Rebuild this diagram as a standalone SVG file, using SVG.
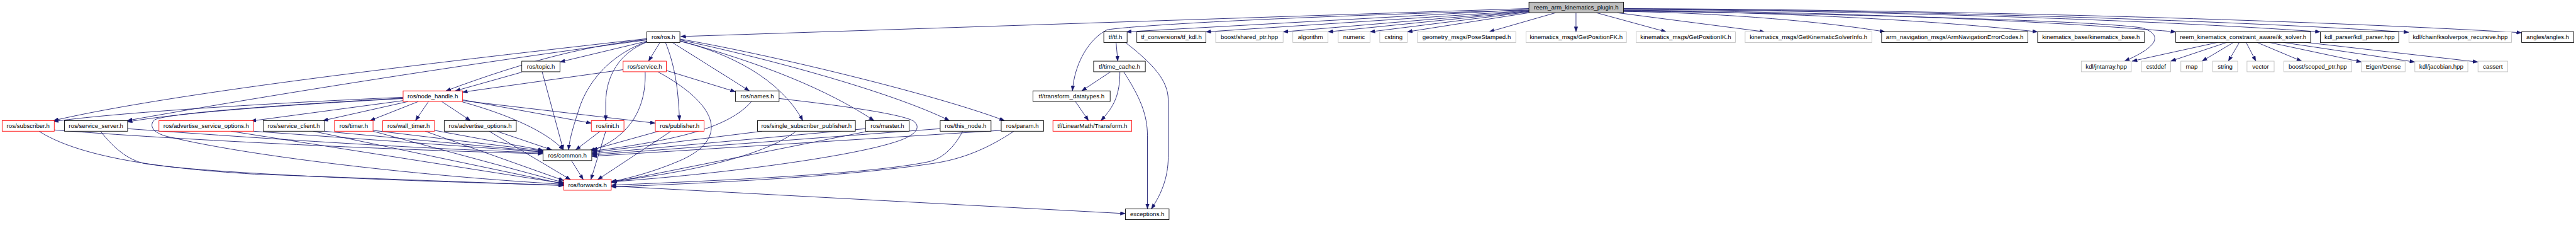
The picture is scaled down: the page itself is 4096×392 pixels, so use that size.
<svg xmlns="http://www.w3.org/2000/svg" width="4096" height="392" viewBox="0 0 4096 392">
<style>
.n rect{fill:#fff;stroke-width:1.3}
.r rect{stroke:#ff0000}
.b rect{stroke:#000}
.g rect{stroke:#bfbfbf}
.root rect{fill:#bfbfbf;stroke:#000}
.n text{font-family:"Liberation Sans",Arial,Helvetica,sans-serif;font-size:14.4px;text-anchor:middle;fill:#000}
#edges path{fill:none;stroke:#191970;stroke-width:1.3;marker-end:url(#ah)}
</style>
<defs>
<marker id="ah" viewBox="0 0 12 9" refX="12" refY="4.5" markerWidth="12" markerHeight="9" orient="auto" markerUnits="userSpaceOnUse">
<path d="M0,0 L12,4.5 L0,9 z" fill="#191970" stroke="#191970" stroke-width="0.5"/>
</marker>
</defs>
<rect width="4096" height="392" fill="#fff"/>
<g transform="scale(0.674)">
<g id="edges">
<path d="M3607,20 L1606,86"/>
<path d="M3607,22 L2657,75"/>
<path d="M3607,24 C3000,40 2680,60 2612,70 C2568,92 2535,150 2530,214"/>
<path d="M3607,25 L2845,75"/>
<path d="M3607,26 L3027,75"/>
<path d="M3607,27 L3133,75"/>
<path d="M3607,28 L3232,75"/>
<path d="M3607,30 L3320,75"/>
<path d="M3670,30 L3513,75"/>
<path d="M3718,30 L3718,75"/>
<path d="M3766,30 L3931,75"/>
<path d="M3815,30 L4163,75"/>
<path d="M3830,27 C4046,30 4293,49 4447,75"/>
<path d="M3830,25 C4172,28 4563,47 4807,75"/>
<path d="M3830,24 C4286,27 4807,47 5133,75"/>
<path d="M3830,22 C4405,25 5063,46 5474,75"/>
<path d="M3830,21 C4479,24 5220,46 5683,76"/>
<path d="M3830,20 C4572,23 5419,46 5949,77"/>
<path d="M3830,26 C4300,32 4950,48 5055,66 C5110,85 5080,115 5012,144"/>
<path d="M5231,100 L5030,144"/>
<path d="M5253,100 L5121,144"/>
<path d="M5269,100 L5195,144"/>
<path d="M5283,100 L5257,144"/>
<path d="M5299,100 L5322,144"/>
<path d="M5325,100 L5430,144"/>
<path d="M5354,100 L5571,146"/>
<path d="M5387,100 L5697,146"/>
<path d="M5441,100 L5846,146"/>
<path d="M2633,100 L2637,144"/>
<path d="M2655,100 C2720,150 2756,190 2756,235 L2756,370 C2756,420 2738,460 2716,492"/>
<path d="M2651,169 C2690,230 2707,270 2707,320 L2707,492"/>
<path d="M2620,169 L2552,214"/>
<path d="M2642,169 C2642,220 2630,250 2597,284"/>
<path d="M2537,239 L2568,284"/>
<path d="M1442,438 L2655,503"/>
<path d="M1526,97 L1321,146"/>
<path d="M1557,100 L1530,144"/>
<path d="M1570,100 C1590,150 1600,200 1603,284"/>
<path d="M1586,100 L1768,214"/>
<path d="M1526,99 C1460,125 1430,180 1429,240 L1429,284"/>
<path d="M1526,98 C1450,125 1395,180 1370,245 C1355,290 1345,320 1341,353"/>
<path d="M1604,97 C1720,125 1840,185 1894,284"/>
<path d="M1604,96 C1800,150 1950,210 2062,284"/>
<path d="M1604,94 C1800,135 2100,215 2240,284"/>
<path d="M1604,92 C1800,125 2200,220 2370,284"/>
<path d="M1526,93 C1400,105 1250,140 1052,214"/>
<path d="M1526,91 C1000,150 400,220 126,284"/>
<path d="M1526,94 C1100,150 600,230 300,284"/>
<path d="M951,229 C700,240 300,262 126,286"/>
<path d="M951,232 C700,246 450,262 300,287"/>
<path d="M951,237 L592,285"/>
<path d="M963,239 L762,284"/>
<path d="M987,239 L873,284"/>
<path d="M1011,239 L980,284"/>
<path d="M1042,239 L1110,284"/>
<path d="M1091,235 L1395,290"/>
<path d="M1091,237 L1546,290"/>
<path d="M1091,240 C1200,270 1290,310 1329,353"/>
<path d="M951,231 C700,245 400,265 365,282 C350,295 360,315 402,323 C600,370 1000,415 1330,434"/>
<path d="M128,306 C500,335 1000,355 1281,362"/>
<path d="M92,309 C180,365 350,395 600,410 L1330,437"/>
<path d="M301,303 C700,332 1000,350 1281,360"/>
<path d="M237,309 C270,350 300,375 340,385 C500,410 1000,428 1330,436"/>
<path d="M598,309 L1281,358"/>
<path d="M545,309 L1330,432"/>
<path d="M765,309 L1281,357"/>
<path d="M739,309 L1330,433"/>
<path d="M880,307 L1281,355"/>
<path d="M880,309 L1330,430"/>
<path d="M1025,307 L1282,354"/>
<path d="M1003,309 L1330,425"/>
<path d="M1172,309 L1302,353"/>
<path d="M1154,309 L1346,423"/>
<path d="M1416,309 L1358,353"/>
<path d="M1429,309 L1394,423"/>
<path d="M1554,309 L1392,354"/>
<path d="M1583,309 L1410,423"/>
<path d="M1798,309 L1396,359"/>
<path d="M1878,309 C1800,370 1600,410 1442,427"/>
<path d="M2042,303 L1396,362"/>
<path d="M2048,309 L1442,430"/>
<path d="M2218,303 L1396,365"/>
<path d="M2271,309 C2250,350 2220,375 2190,381 C2050,410 1700,425 1442,436"/>
<path d="M2362,307 L1396,368"/>
<path d="M2392,309 C2330,350 2270,375 2200,385 C2000,415 1700,430 1442,440"/>
<path d="M1773,239 C1720,300 1600,330 1396,356"/>
<path d="M1838,232 C2000,250 2130,270 2155,285 C2175,300 2160,320 2110,335 C2000,370 1700,410 1443,428"/>
<path d="M1522,169 C1525,250 1490,320 1398,354"/>
<path d="M1552,169 C1700,250 1720,330 1600,380 C1540,405 1490,418 1443,428"/>
<path d="M1572,166 L1735,216"/>
<path d="M1470,164 L1091,217"/>
<path d="M1231,170 L1074,214"/>
<path d="M1279,169 L1329,353"/>
<path d="M1348,378 L1376,423"/>
</g>
<g id="reem_arm_kinematics_plugin" class="n root"><rect x="3607" y="5" width="223" height="25"/><text x="3718.5" y="22.5">reem_arm_kinematics_plugin.h</text></g>
<g id="ros_ros" class="n b"><rect x="1526" y="75" width="78" height="25"/><text x="1565" y="92.5">ros/ros.h</text></g>
<g id="tf_tf" class="n b"><rect x="2604" y="75" width="55" height="25"/><text x="2631.5" y="92.5">tf/tf.h</text></g>
<g id="tf_kdl" class="n b"><rect x="2682" y="75" width="163" height="25"/><text x="2763.5" y="92.5">tf_conversions/tf_kdl.h</text></g>
<g id="shared_ptr" class="n g"><rect x="2868" y="75" width="159" height="25"/><text x="2947.5" y="92.5">boost/shared_ptr.hpp</text></g>
<g id="algorithm" class="n g"><rect x="3050" y="75" width="83" height="25"/><text x="3091.5" y="92.5">algorithm</text></g>
<g id="numeric" class="n g"><rect x="3157" y="75" width="75" height="25"/><text x="3194.5" y="92.5">numeric</text></g>
<g id="cstring" class="n g"><rect x="3255" y="75" width="65" height="25"/><text x="3287.5" y="92.5">cstring</text></g>
<g id="pose_stamped" class="n g"><rect x="3344" y="75" width="232" height="25"/><text x="3460" y="92.5">geometry_msgs/PoseStamped.h</text></g>
<g id="get_fk" class="n g"><rect x="3600" y="75" width="237" height="25"/><text x="3718.5" y="92.5">kinematics_msgs/GetPositionFK.h</text></g>
<g id="get_ik" class="n g"><rect x="3860" y="75" width="234" height="25"/><text x="3977" y="92.5">kinematics_msgs/GetPositionIK.h</text></g>
<g id="get_solver_info" class="n g"><rect x="4117" y="75" width="299" height="25"/><text x="4266.5" y="92.5">kinematics_msgs/GetKinematicSolverInfo.h</text></g>
<g id="arm_nav_err" class="n b"><rect x="4439" y="75" width="345" height="25"/><text x="4611.5" y="92.5">arm_navigation_msgs/ArmNavigationErrorCodes.h</text></g>
<g id="kinematics_base" class="n b"><rect x="4807" y="75" width="252" height="25"/><text x="4933" y="92.5">kinematics_base/kinematics_base.h</text></g>
<g id="ik_solver" class="n b"><rect x="5133" y="75" width="318" height="25"/><text x="5292" y="92.5">reem_kinematics_constraint_aware/ik_solver.h</text></g>
<g id="kdl_parser" class="n b"><rect x="5474" y="75" width="185" height="25"/><text x="5566.5" y="92.5">kdl_parser/kdl_parser.hpp</text></g>
<g id="chainfk" class="n g"><rect x="5683" y="75" width="242" height="25"/><text x="5804" y="92.5">kdl/chainfksolverpos_recursive.hpp</text></g>
<g id="angles" class="n b"><rect x="5949" y="75" width="123" height="25"/><text x="6010.5" y="92.5">angles/angles.h</text></g>
<g id="ros_topic" class="n b"><rect x="1231" y="144" width="90" height="25"/><text x="1276" y="161.5">ros/topic.h</text></g>
<g id="ros_service" class="n r"><rect x="1470" y="144" width="102" height="25"/><text x="1521" y="161.5">ros/service.h</text></g>
<g id="tf_time_cache" class="n b"><rect x="2580" y="144" width="122" height="25"/><text x="2641" y="161.5">tf/time_cache.h</text></g>
<g id="jntarray" class="n g"><rect x="4910" y="144" width="118" height="25"/><text x="4969" y="161.5">kdl/jntarray.hpp</text></g>
<g id="cstddef" class="n g"><rect x="5052" y="144" width="69" height="25"/><text x="5086.5" y="161.5">cstddef</text></g>
<g id="map" class="n g"><rect x="5145" y="144" width="51" height="25"/><text x="5170.5" y="161.5">map</text></g>
<g id="string" class="n g"><rect x="5220" y="144" width="59" height="25"/><text x="5249.5" y="161.5">string</text></g>
<g id="vector" class="n g"><rect x="5301" y="144" width="64" height="25"/><text x="5333" y="161.5">vector</text></g>
<g id="scoped_ptr" class="n g"><rect x="5388" y="144" width="160" height="25"/><text x="5468" y="161.5">boost/scoped_ptr.hpp</text></g>
<g id="eigen_dense" class="n g"><rect x="5571" y="144" width="103" height="25"/><text x="5622.5" y="161.5">Eigen/Dense</text></g>
<g id="jacobian" class="n g"><rect x="5697" y="144" width="125" height="25"/><text x="5759.5" y="161.5">kdl/jacobian.hpp</text></g>
<g id="cassert" class="n g"><rect x="5846" y="144" width="70" height="25"/><text x="5881" y="161.5">cassert</text></g>
<g id="node_handle" class="n r"><rect x="951" y="214" width="140" height="25"/><text x="1021" y="231.5">ros/node_handle.h</text></g>
<g id="ros_names" class="n b"><rect x="1735" y="214" width="103" height="25"/><text x="1786.5" y="231.5">ros/names.h</text></g>
<g id="transform_datatypes" class="n b"><rect x="2437" y="214" width="182" height="25"/><text x="2528" y="231.5">tf/transform_datatypes.h</text></g>
<g id="subscriber" class="n r"><rect x="5" y="284" width="123" height="25"/><text x="66.5" y="301.5">ros/subscriber.h</text></g>
<g id="service_server" class="n b"><rect x="152" y="284" width="149" height="25"/><text x="226.5" y="301.5">ros/service_server.h</text></g>
<g id="adv_service_options" class="n r"><rect x="375" y="284" width="223" height="25"/><text x="486.5" y="301.5">ros/advertise_service_options.h</text></g>
<g id="service_client" class="n b"><rect x="621" y="284" width="144" height="25"/><text x="693" y="301.5">ros/service_client.h</text></g>
<g id="timer" class="n r"><rect x="789" y="284" width="91" height="25"/><text x="834.5" y="301.5">ros/timer.h</text></g>
<g id="wall_timer" class="n r"><rect x="903" y="284" width="122" height="25"/><text x="964" y="301.5">ros/wall_timer.h</text></g>
<g id="adv_options" class="n b"><rect x="1048" y="284" width="170" height="25"/><text x="1133" y="301.5">ros/advertise_options.h</text></g>
<g id="ros_init" class="n r"><rect x="1395" y="284" width="77" height="25"/><text x="1433.5" y="301.5">ros/init.h</text></g>
<g id="publisher" class="n r"><rect x="1546" y="284" width="115" height="25"/><text x="1603.5" y="301.5">ros/publisher.h</text></g>
<g id="single_sub_pub" class="n b"><rect x="1787" y="284" width="231" height="25"/><text x="1902.5" y="301.5">ros/single_subscriber_publisher.h</text></g>
<g id="ros_master" class="n b"><rect x="2042" y="284" width="103" height="25"/><text x="2093.5" y="301.5">ros/master.h</text></g>
<g id="this_node" class="n b"><rect x="2218" y="284" width="120" height="25"/><text x="2278" y="301.5">ros/this_node.h</text></g>
<g id="ros_param" class="n b"><rect x="2362" y="284" width="100" height="25"/><text x="2412" y="301.5">ros/param.h</text></g>
<g id="linearmath_transform" class="n r"><rect x="2484" y="284" width="186" height="25"/><text x="2577" y="301.5">tf/LinearMath/Transform.h</text></g>
<g id="ros_common" class="n b"><rect x="1281" y="353" width="115" height="25"/><text x="1338.5" y="370.5">ros/common.h</text></g>
<g id="ros_forwards" class="n r"><rect x="1330" y="423" width="112" height="25"/><text x="1386" y="440.5">ros/forwards.h</text></g>
<g id="exceptions" class="n b"><rect x="2655" y="492" width="103" height="25"/><text x="2706.5" y="509.5">exceptions.h</text></g>
</g>
</svg>
